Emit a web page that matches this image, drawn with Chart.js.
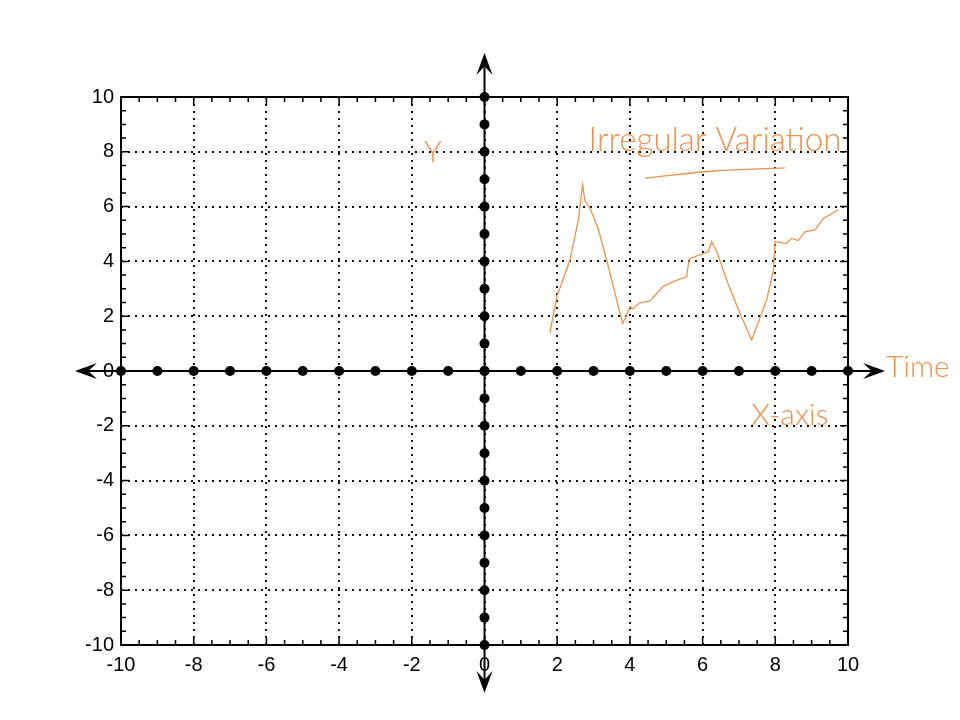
<!DOCTYPE html>
<html>
<head>
<meta charset="utf-8">
<script src="https://cdn.jsdelivr.net/npm/chart.js@4.4.1/dist/chart.umd.min.js"></script>
<style>
  html, body { margin: 0; padding: 0; background: #fff; }
  canvas { display: block; }
</style>
</head>
<body>
<canvas id="myChart" width="960" height="720"></canvas>
<script>
// tick labels / axis marks
const axisValues = [-10, -9, -8, -7, -6, -5, -4, -3, -2, -1, 0, 1, 2, 3, 4, 5, 6, 7, 8, 9, 10];

// hand drawn "irregular variation" curve
const seriesX = [1.80, 1.99, 2.35, 2.58, 2.70, 2.76, 2.90, 3.12, 3.36, 3.80, 3.89, 4.00, 4.09, 4.19, 4.28, 4.55, 4.74, 4.91, 5.19, 5.56, 5.63, 5.84, 6.16, 6.25, 6.39, 6.66, 7.03, 7.35, 7.76, 7.95, 7.99, 8.31, 8.45, 8.63, 8.82, 9.09, 9.32, 9.73];
const seriesY = [1.39, 2.71, 4.05, 5.51, 6.79, 6.24, 5.95, 5.22, 4.05, 1.74, 1.98, 2.35, 2.26, 2.41, 2.49, 2.55, 2.83, 3.08, 3.26, 3.44, 4.08, 4.20, 4.36, 4.72, 4.36, 3.32, 2.10, 1.13, 2.59, 3.69, 4.72, 4.66, 4.84, 4.76, 5.09, 5.15, 5.57, 5.88];

// underline under the title note
const underlineX = [4.42, 6.30, 8.27];
const underlineY = [7.04, 7.30, 7.41];

// hand written notes
const noteText = ['Y', 'Irregular Variation', 'Time', 'X-axis'];
const noteX = [-1.42, 6.34, 11.92, 8.40];
const noteY = [7.99, 8.43, 0.15, -1.61];

const ORANGE = '#ec924e';
const ctx = document.getElementById('myChart').getContext('2d');
Chart.defaults.font.family = "'Liberation Sans', Arial, sans-serif";

const axisPoints = axisValues.map(v => ({ x: v, y: 0 }))
    .concat(axisValues.map(v => ({ x: 0, y: v })));

// arrow head with a notch at the back
function arrow(c, tx, ty, dx, dy) {
    const L = 22, W = 8, nx = -dy, ny = dx;
    c.beginPath();
    c.moveTo(tx, ty);
    c.lineTo(tx - dx * L + nx * W, ty - dy * L + ny * W);
    c.lineTo(tx - dx * L * 0.6, ty - dy * L * 0.6);
    c.lineTo(tx - dx * L - nx * W, ty - dy * L - ny * W);
    c.closePath();
    c.fill();
}

// frame, inward ticks, axes through the origin, arrows
const framePlugin = {
    id: 'frame',
    beforeDatasetsDraw(chart) {
        const { ctx: c, chartArea: a, scales: { x, y } } = chart;
        const x0 = x.getPixelForValue(0), y0 = y.getPixelForValue(0);
        c.save();
        c.strokeStyle = '#000';
        c.fillStyle = '#000';
        c.lineWidth = 2;
        c.strokeRect(a.left, a.top, a.right - a.left, a.bottom - a.top);

        c.lineWidth = 1.5;
        c.beginPath();
        for (let v = -10; v <= 10; v += 0.5) {
            const len = Math.abs(v % 2) < 1e-9 ? 8 : 5;
            const px = x.getPixelForValue(v), py = y.getPixelForValue(v);
            c.moveTo(px, a.bottom); c.lineTo(px, a.bottom - len);
            c.moveTo(px, a.top); c.lineTo(px, a.top + len);
            c.moveTo(a.left, py); c.lineTo(a.left + len, py);
            c.moveTo(a.right, py); c.lineTo(a.right - len, py);
        }
        c.stroke();

        c.lineWidth = 2;
        c.beginPath();
        c.moveTo(a.left - 40, y0); c.lineTo(a.right + 30, y0);
        c.moveTo(x0, a.top - 38); c.lineTo(x0, a.bottom + 42);
        c.stroke();

        arrow(c, a.right + 37, y0, 1, 0);
        arrow(c, a.left - 46, y0, -1, 0);
        arrow(c, x0, a.top - 44, 0, -1);
        arrow(c, x0, a.bottom + 48, 0, 1);
        c.restore();
    }
};

// orange hand written labels
const notesPlugin = {
    id: 'notes',
    afterDraw(chart) {
        const { ctx: c, scales: { x, y } } = chart;
        c.save();
        c.fillStyle = ORANGE;
        c.textAlign = 'center';
        c.textBaseline = 'middle';
        noteText.forEach((t, i) => {
            const size = t.length > 10 ? 33 : 30;
            c.font = "300 " + size + "px Lato, 'DejaVu Sans', sans-serif";
            c.fillText(t, x.getPixelForValue(noteX[i]), y.getPixelForValue(noteY[i]));
        });
        c.restore();
    }
};

const myChart = new Chart(ctx, {
    type: 'scatter',
    data: {
        datasets: [
            {
                label: 'Irregular Variation',
                data: seriesX.map((v, i) => ({ x: v, y: seriesY[i] })),
                showLine: true,
                borderColor: ORANGE,
                borderWidth: 1.3,
                pointRadius: 0,
                tension: 0,
                order: 2
            },
            {
                label: 'underline',
                data: underlineX.map((v, i) => ({ x: v, y: underlineY[i] })),
                showLine: true,
                borderColor: ORANGE,
                borderWidth: 1.3,
                pointRadius: 0,
                tension: 0.4,
                order: 2
            },
            {
                label: 'axis points',
                data: axisPoints,
                pointRadius: 5,
                pointStyle: 'circle',
                backgroundColor: '#000',
                borderColor: '#000',
                borderWidth: 0,
                clip: false,
                order: 1
            }
        ]
    },
    options: {
        responsive: false,
        animation: false,
        events: [],
        layout: { padding: { left: 0, top: 97, right: 112, bottom: 0 } },
        plugins: { legend: { display: false }, tooltip: { enabled: false } },
        scales: {
            x: {
                type: 'linear',
                min: -10,
                max: 10,
                afterFit: s => { s.height = 75; },
                grid: { color: '#111', lineWidth: 2, drawTicks: false },
                border: { display: false, dash: [2, 5] },
                ticks: {
                    stepSize: 2,
                    autoSkip: false,
                    maxRotation: 0,
                    padding: 8,
                    color: '#000',
                    font: { size: 20 }
                }
            },
            y: {
                type: 'linear',
                min: -10,
                max: 10,
                afterFit: s => { s.width = 121; },
                grid: { color: '#111', lineWidth: 2, drawTicks: false },
                border: { display: false, dash: [2, 5] },
                ticks: {
                    stepSize: 2,
                    autoSkip: false,
                    padding: 7,
                    color: '#000',
                    font: { size: 20 }
                }
            }
        }
    },
    plugins: [framePlugin, notesPlugin]
});
</script>
</body>
</html>
